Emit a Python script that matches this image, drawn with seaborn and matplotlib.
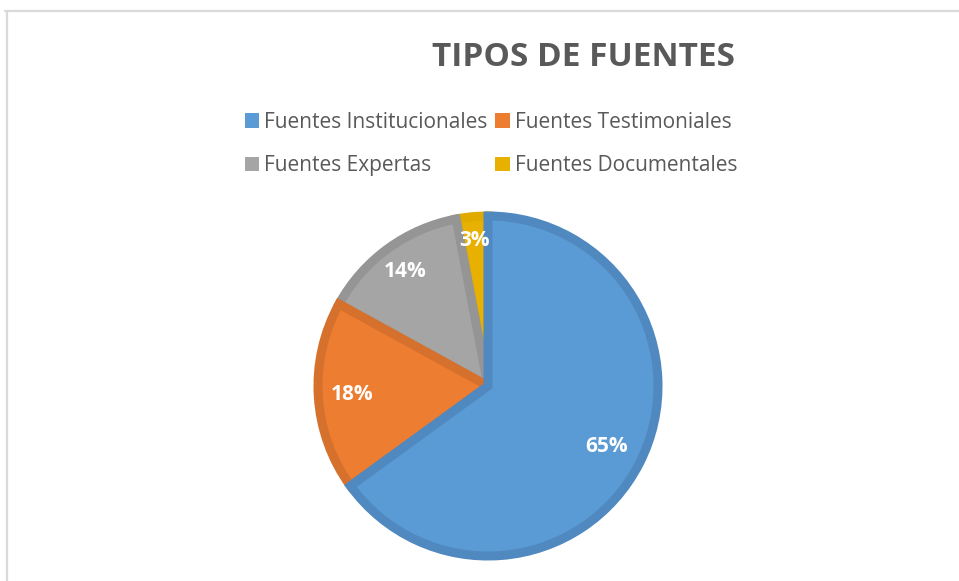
import matplotlib
matplotlib.use("Agg")
import matplotlib.pyplot as plt
from matplotlib.patches import Patch
import numpy as np
import seaborn as sns

# Source types and their share of the total (percent)
categories = ["Fuentes Institucionales", "Fuentes Testimoniales",
              "Fuentes Expertas", "Fuentes Documentales"]
shares = [65, 18, 14, 3]

fill_colors = ["#5B9BD5", "#ED7D31", "#A5A5A5", "#E8B000"]
edge_colors = ["#5089C0", "#D6712D", "#959595", "#E0AA00"]

sns.set_theme(style="white")
plt.rcParams["font.family"] = ["Open Sans", "DejaVu Sans"]

W, H = 959, 581
fig = plt.figure(figsize=(W / 100, H / 100), dpi=100)
fig.patch.set_facecolor("white")

# Chart-area frame (top and left edges visible)
frame_col = "#D9D9D9"
fig.add_artist(plt.Line2D([5 / W, 1.0], [1 - 10.5 / H, 1 - 10.5 / H],
                          transform=fig.transFigure, color=frame_col, lw=1.6))
fig.add_artist(plt.Line2D([7 / W, 7 / W], [0, 1 - 10.5 / H],
                          transform=fig.transFigure, color=frame_col, lw=1.6))

# Pie axes, centred on the plot area
cx, cy, R = 488, 386, 170
pad = 1.12
half = R * pad
ax = fig.add_axes([(cx - half) / W, (H - cy - half) / H, 2 * half / W, 2 * half / H])

wedges, _ = ax.pie(shares, colors=fill_colors, startangle=90, counterclock=False,
                   radius=1.0, wedgeprops=dict(linewidth=6.5))
for i, (w, ec) in enumerate(zip(wedges, edge_colors)):
    w.set_edgecolor(ec)
    w.set_joinstyle("miter")
    w.set_zorder(10 - i)
ax.set_xlim(-pad, pad)
ax.set_ylim(-pad, pad)
ax.set_aspect("equal")
ax.axis("off")

# Percentage labels inside each slice
label_radius = [0.78, 0.80, 0.83, 0.86]
for w, val, r in zip(wedges, shares, label_radius):
    ang = np.deg2rad((w.theta1 + w.theta2) / 2)
    ax.text(r * np.cos(ang), r * np.sin(ang), f"{val}%", ha="center", va="center",
            color="white", fontsize=15, fontweight="bold", zorder=20)

# Title
fig.text(584 / W, 1 - 57 / H, "TIPOS DE FUENTES", ha="center", va="center",
         fontsize=24, fontweight="bold", color="#595959")

# Legend, filled row by row
order = [0, 2, 1, 3]
handles = [Patch(facecolor=fill_colors[i], edgecolor="none") for i in order]
labels = [categories[i] for i in order]
leg = fig.legend(handles, labels, ncol=2, loc="center",
                 bbox_to_anchor=(491 / W, 1 - 144 / H), frameon=False,
                 fontsize=15, handlelength=0.7, handleheight=0.7,
                 handletextpad=0.25, columnspacing=0.35, labelspacing=1.1,
                 labelcolor="#595959")

fig.savefig("out.png", dpi=100, facecolor="white")
